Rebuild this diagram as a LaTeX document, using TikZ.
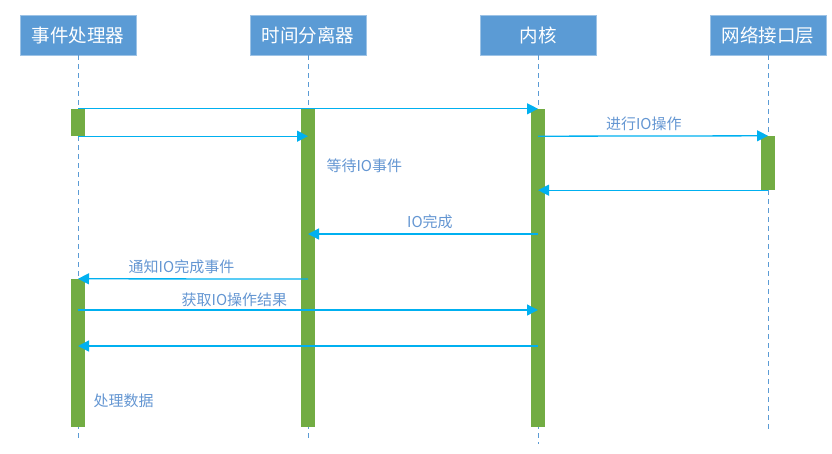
\documentclass[tikz,border=0pt]{standalone}
\usepackage{fontspec}
\newfontfamily\cjk{Noto Sans CJK SC}
\usetikzlibrary{arrows.meta,positioning,calc}
\usepackage{xcolor}
\definecolor{headcol}{RGB}{91,155,213}
\definecolor{headline}{RGB}{157,195,230}
\definecolor{barcol}{RGB}{114,172,67}
\definecolor{msgcol}{RGB}{0,176,240}
\definecolor{txtcol}{RGB}{100,150,210}

\begin{document}
\begin{tikzpicture}[x=1pt,y=-1pt,
  every node/.style={font=\cjk\fontsize{15}{18}\selectfont},
  head/.style={draw=headline,fill=headcol,text=white,minimum width=116pt,
    minimum height=40pt,inner sep=0pt,font=\cjk\fontsize{18.5}{22}\selectfont},
  bar/.style={fill=barcol,minimum width=14pt,inner sep=0pt},
  life/.style={headcol,dash pattern=on 5pt off 4pt,line width=0.8pt},
  msg/.style={msgcol,line width=1.3pt,-{Triangle[length=11pt,width=11pt]}},
  lbl/.style={text=txtcol}]
  \useasboundingbox (0,0) rectangle (832,453);
  % participants
  \node[head] (ep) at (78,35){事件处理器};
  \node[head] (ts) at (308,35){时间分离器};
  \node[head] (kn) at (538,35){内核};
  \node[head] (ni) at (768,35){网络接口层};
  \coordinate (epend) at (78,438);
  \coordinate (tsend) at (308,438);
  \coordinate (knend) at (538,444);
  \coordinate (niend) at (768,429);
  \draw[life](ep.south)--(epend);
  \draw[life](ts.south)--(tsend);
  \draw[life](kn.south)--(knend);
  \draw[life](ni.south)--(niend);
  % activations
  \node[bar,minimum height=27pt] (ep1) at (78,122.5){};
  \node[bar,minimum height=318pt] (ts1) at (308,268){};
  \node[bar,minimum height=318pt] (kn1) at (538,268){};
  \node[bar,minimum height=54pt] (ni1) at (768,163){};
  \node[bar,minimum height=148pt] (ep2) at (78,353){};
  % messages
  \coordinate (m5) at (0,234);
  \coordinate (m6) at (0,279);
  \coordinate (m7) at (0,310);
  \coordinate (m8) at (0,346);
  \draw[msg](ep1.north)--(kn1.north);
  \draw[msg](ep1.south)--(ep1.south -| ts1);
  \draw[msg](ep1.south -| kn1)--(ni1.north)
    node[lbl,pos=0.46,above=1pt]{进行IO操作};
  \draw[msg](ni1.south)--(ni1.south -| kn1);
  \draw[msg](m5 -| kn1)--(m5 -| ts1)
    node[lbl,pos=0.47,above=1pt]{IO完成};
  \draw[msg](m6 -| ts1)--(ep2.north)
    node[lbl,pos=0.55,above=1pt]{通知IO完成事件};
  \draw[msg](m7 -| ep2)--(m7 -| kn1)
    node[lbl,pos=0.34,above=-1pt]{获取IO操作结果};
  \draw[msg](m8 -| kn1)--(m8 -| ep2);
  % notes
  \node[lbl,anchor=west] (wait) at (323,166){等待IO事件};
  \node[lbl,anchor=west] (proc) at (90,401){处理数据};
\end{tikzpicture}
\end{document}
